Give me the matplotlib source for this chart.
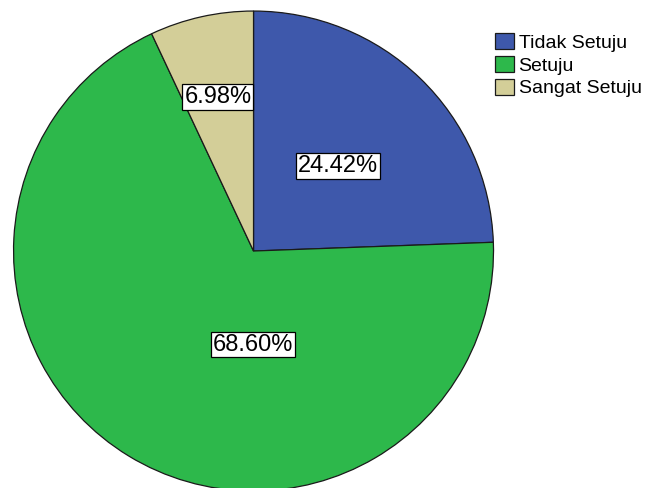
import matplotlib.pyplot as plt
import numpy as np

plt.rcParams['font.family'] = ['Liberation Sans', 'DejaVu Sans']

# data
categories = ['Tidak Setuju', 'Setuju', 'Sangat Setuju']
percents = [24.42, 68.60, 6.98]
colors = ['#3e58ab', '#2db84b', '#d3ce98']
# label placement (radius fraction, angle in degrees) as in the original
label_r = [0.50, 0.39, 0.66]
label_ang = [45, -90.5, 103]

fig = plt.figure(figsize=(6.46, 4.88), dpi=100)
ax = fig.add_axes([0, 0, 1, 1])

wedges, _ = ax.pie(percents, colors=colors, startangle=90, counterclock=False,
                   radius=1.0, center=(0, 0),
                   wedgeprops=dict(edgecolor='#1a1a1a', linewidth=0.9))

for p, r, a in zip(percents, label_r, label_ang):
    x = r * np.cos(np.radians(a))
    y = r * np.sin(np.radians(a))
    ax.text(x, y, '{:.2f}%'.format(p), ha='center', va='center', fontsize=17,
            bbox=dict(boxstyle='square,pad=0.08', facecolor='white', edgecolor='black', linewidth=0.9))

ax.set_xlim(-1.056, 1.635)
ax.set_ylim(-0.9875, 1.046)
ax.set_aspect('equal')
ax.axis('off')

leg = fig.legend(wedges, categories, loc='upper left', bbox_to_anchor=(0.766, 0.932),
                 frameon=False, fontsize=14, handlelength=1.0, handleheight=0.9,
                 handletextpad=0.22, labelspacing=0.2, borderaxespad=0, borderpad=0)

fig.savefig('out.png', dpi=100)
